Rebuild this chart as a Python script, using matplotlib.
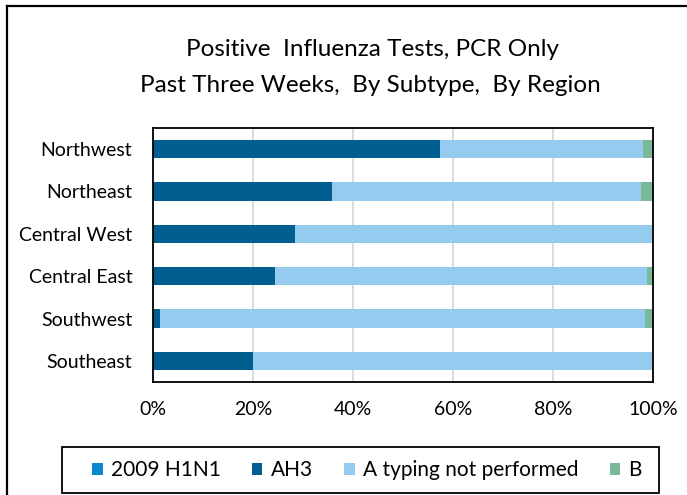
import matplotlib
matplotlib.use("Agg")
import matplotlib.pyplot as plt
from matplotlib.lines import Line2D
from matplotlib.patches import Rectangle, Patch
import numpy as np

regions = ["Northwest", "Northeast", "Central West", "Central East", "Southwest", "Southeast"]
h1n1 = [0.0, 0.0, 0.0, 0.0, 0.0, 0.0]
ah3 = [57.3, 35.8, 28.4, 24.4, 1.3, 20.0]
a_not_typed = [40.7, 61.8, 71.6, 74.4, 97.1, 80.0]
b = [2.0, 2.4, 0.0, 1.2, 1.6, 0.0]
series_names = ["2009 H1N1", "AH3", "A typing not performed", "B"]
colors = ["#0A88CE", "#005F90", "#94CBEF", "#7BB89A"]
xticks = [0, 20, 40, 60, 80, 100]
xtick_labels = ["0%", "20%", "40%", "60%", "80%", "100%"]

plt.rcParams['font.family'] = ['Lato', 'DejaVu Sans']

W, H = 687, 495
fig = plt.figure(figsize=(W / 100, H / 100), dpi=100)
ax = fig.add_axes([153 / W, 1 - 382 / H, 500 / W, 254 / H])

y = np.arange(len(regions))
left = np.zeros(len(regions))
for vals, c, name in zip([h1n1, ah3, a_not_typed, b], colors, series_names):
    ax.barh(y, vals, left=left, height=0.43, color=c, label=name, zorder=3)
    left = left + np.array(vals)

ax.set_ylim(len(regions) - 0.5, -0.5)
ax.set_xlim(0, 100)
ax.set_xticks(xticks)
ax.set_xticklabels(xtick_labels)
ax.set_yticks(y)
ax.set_yticklabels(regions)
ax.tick_params(axis='both', length=0, labelsize=14, colors='black')
ax.tick_params(axis='y', pad=15)
ax.tick_params(axis='x', pad=14)
ax.grid(axis='x', color='#D9D9D9', linewidth=1.3, zorder=0)
for s in ax.spines.values():
    s.set_color('black')
    s.set_linewidth(1.3)
    s.set_zorder(4)

fig.text(373 / W, 1 - 50 / H, "Positive  Influenza Tests, PCR Only", ha='center', va='center', fontsize=17.5)
fig.text(370 / W, 1 - 85 / H, "Past Three Weeks,  By Subtype,  By Region", ha='center', va='center', fontsize=17.5)

handles = [Patch(facecolor=c, edgecolor='none') for c in colors]
leg = fig.legend(handles, series_names, loc='center', bbox_to_anchor=(367 / W, 1 - 470 / H),
                 ncol=4, frameon=False, fontsize=15, handlelength=0.5, handleheight=0.5,
                 handletextpad=0.4, columnspacing=1.5)
fig.add_artist(Rectangle((62 / W, 1 - 493 / H), (659 - 62) / W, 46 / H, transform=fig.transFigure,
                         fill=False, edgecolor='black', linewidth=1.3))

# outer chart border (left and top visible)
fig.add_artist(Line2D([7 / W, 7 / W], [0, 1 - 6 / H], transform=fig.transFigure, color='black', linewidth=1.6))
fig.add_artist(Line2D([7 / W, 1], [1 - 6 / H, 1 - 6 / H], transform=fig.transFigure, color='black', linewidth=1.6))

fig.savefig("out.png", dpi=100)
